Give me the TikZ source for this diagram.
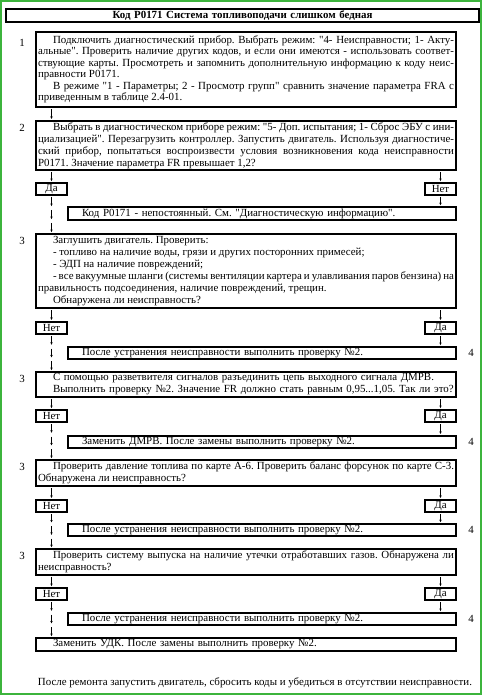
\documentclass[tikz,border=0pt]{standalone}
\usepackage{fontspec}
\setmainfont{Liberation Serif}[Ligatures=TeXOff]
\usetikzlibrary{calc,arrows.meta}
\definecolor{frameg}{RGB}{60,180,60}
\newcommand\fs{\fontsize{10.9}{12}\selectfont\frenchspacing}
\newcommand\ind{\hspace*{15pt}}
\newcommand\myarrs[3]{%
  \coordinate (arA) at (#1); \coordinate (arB) at (#2);
  \foreach \i in {1,...,#3}{
    \draw[darr] ($(arA)!{(\i-1+0.15)/#3}!(arB)$) -- ($(arA)!{(\i-0.15)/#3}!(arB)$);
  }}
\begin{document}
\begin{tikzpicture}[x=1pt,y=-1pt,
  font=\fs,
  box/.style={draw, line width=1.2pt, anchor=north west, inner xsep=2pt, inner ysep=0.5pt, outer sep=0pt, align=justify},
  wide/.style={minimum width=420pt, text width=416pt},
  mid/.style={minimum width=388pt, text width=384pt, align=left},
  ans/.style={draw, line width=1.2pt, anchor=north west, inner sep=0pt, outer sep=0pt, minimum width=31pt, minimum height=12pt, align=center},
  lbl/.style={inner sep=0pt},
  darr/.style={line width=0.6pt, -{Stealth[length=2.6pt,width=2.4pt]}}]
\useasboundingbox (0,0) rectangle (482,695);
\draw[frameg, line width=2.2pt] (1.1,1.1) rectangle (480.9,693.9);

% title
\node[box, minimum width=473pt, text width=469pt, minimum height=13pt, align=center, font=\fs\bfseries] (title) at (6,9) {Код P0171 Система топливоподачи слишком бедная};

% box 1
\node[box, wide, minimum height=75pt, font=\fontsize{10.9}{11.5}\selectfont\frenchspacing] (b1) at (36,32) {\ind Подключить диагностический прибор. Выбрать режим: "4- Неисправности; 1- Акту-\linebreak альные". Проверить наличие других кодов, и если они имеются - использовать соответ-\linebreak ствующие карты. Просмотреть и запомнить дополнительную информацию к коду неис-\linebreak правности P0171.\par
\ind В режиме "1 - Параметры; 2 - Просмотр групп" сравнить значение параметра FRA с\linebreak приведенным в таблице 2.4-01.};
\node[lbl] at ($(b1.north west)+(-14,11)$) {1};

% box 2
\node[box, wide, minimum height=49pt] (b2) at (36,121) {\ind Выбрать в диагностическом приборе режим: "5- Доп. испытания; 1- Сброс ЭБУ с ини-\linebreak циализацией". Перезагрузить контроллер. Запустить двигатель. Используя диагностиче-\linebreak ский прибор, попытаться воспроизвести условия возникновения кода неисправности\linebreak P0171. Значение параметра FR превышает 1,2?};
\node[lbl] at ($(b2.north west)+(-14,7)$) {2};

\node[ans] (y2) at (36,183) {Да};
\node[ans] (n2) at (425,183) {Нет};
\node[box, mid, minimum height=13pt] (k2) at (68,207) {\hspace*{12pt}Код P0171 - непостоянный. См. "Диагностическую информацию".};

% box 3
\node[box, wide, minimum height=74pt] (b3) at (36,234) {\ind Заглушить двигатель. Проверить:\par
\ind - топливо на наличие воды, грязи и других посторонних примесей;\par
\ind - ЭДП на наличие повреждений;\par
\ind - все вакуумные шланги (системы вентиляции картера и улавливания паров бензина) на\linebreak правильность подсоединения, наличие повреждений, трещин.\par
\ind Обнаружена ли неисправность?};
\node[lbl] at ($(b3.north west)+(-14,7)$) {3};

\node[ans] (n3) at (36,322) {Нет};
\node[ans] (y3) at (425,322) {Да};
\node[box, mid, minimum height=12pt] (f3) at (68,347) {\hspace*{12pt}После устранения неисправности выполнить проверку №2.};
\node[lbl] at ($(f3.east)+(15,0)$) {4};

% box 4
\node[box, wide, minimum height=25pt, align=left] (b4) at (36,372) {\ind С помощью разветвителя сигналов разъединить цепь выходного сигнала ДМРВ.\par
\ind Выполнить проверку №2. Значение FR должно стать равным 0,95...1,05. Так ли это?};
\node[lbl] at ($(b4.north west)+(-14,7)$) {3};

\node[ans] (n4) at (36,410) {Нет};
\node[ans] (y4) at (425,410) {Да};
\node[box, mid, minimum height=12pt] (f4) at (68,436) {\hspace*{12pt}Заменить ДМРВ. После замены выполнить проверку №2.};
\node[lbl] at ($(f4.east)+(15,0)$) {4};

% box 5
\node[box, wide, minimum height=26pt] (b5) at (36,460) {\ind Проверить давление топлива по карте А-6. Проверить баланс форсунок по карте С-3.\linebreak Обнаружена ли неисправность?};
\node[lbl] at ($(b5.north west)+(-14,7)$) {3};

\node[ans] (n5) at (36,500) {Нет};
\node[ans] (y5) at (425,500) {Да};
\node[box, mid, minimum height=12pt] (f5) at (68,524) {\hspace*{12pt}После устранения неисправности выполнить проверку №2.};
\node[lbl] at ($(f5.east)+(15,0)$) {4};

% box 6
\node[box, wide, minimum height=26pt] (b6) at (36,549) {\ind Проверить систему выпуска на наличие утечки отработавших газов. Обнаружена ли\linebreak неисправность?};
\node[lbl] at ($(b6.north west)+(-14,7)$) {3};

\node[ans] (n6) at (36,588) {Нет};
\node[ans] (y6) at (425,588) {Да};
\node[box, mid, minimum height=12pt] (f6) at (68,613) {\hspace*{12pt}После устранения неисправности выполнить проверку №2.};
\node[lbl] at ($(f6.east)+(15,0)$) {4};

% box 7
\node[box, wide, minimum height=13pt, align=left] (b7) at (36,638) {\ind Заменить УДК. После замены выполнить проверку №2.};

\node (note) at (255,683) {После ремонта запустить двигатель, сбросить коды и убедиться в отсутствии неисправности.};

% arrows
\myarrs{y2.north |- b1.south}{y2.north |- b2.north}{1}
\myarrs{y2.north |- b2.south}{y2.north}{1}
\myarrs{n2.north |- b2.south}{n2.north}{1}
\myarrs{y2.south}{y2.south |- b3.north}{3}
\myarrs{n2.south}{n2.south |- k2.north}{1}

\myarrs{n3.north |- b3.south}{n3.north}{1}
\myarrs{y3.north |- b3.south}{y3.north}{1}
\myarrs{n3.south}{n3.south |- b4.north}{3}
\myarrs{y3.south}{y3.south |- f3.north}{1}

\myarrs{n4.north |- b4.south}{n4.north}{1}
\myarrs{y4.north |- b4.south}{y4.north}{1}
\myarrs{n4.south}{n4.south |- b5.north}{3}
\myarrs{y4.south}{y4.south |- f4.north}{1}

\myarrs{n5.north |- b5.south}{n5.north}{1}
\myarrs{y5.north |- b5.south}{y5.north}{1}
\myarrs{n5.south}{n5.south |- b6.north}{3}
\myarrs{y5.south}{y5.south |- f5.north}{1}

\myarrs{n6.north |- b6.south}{n6.north}{1}
\myarrs{y6.north |- b6.south}{y6.north}{1}
\myarrs{n6.south}{n6.south |- b7.north}{3}
\myarrs{y6.south}{y6.south |- f6.north}{1}
\end{tikzpicture}
\end{document}
